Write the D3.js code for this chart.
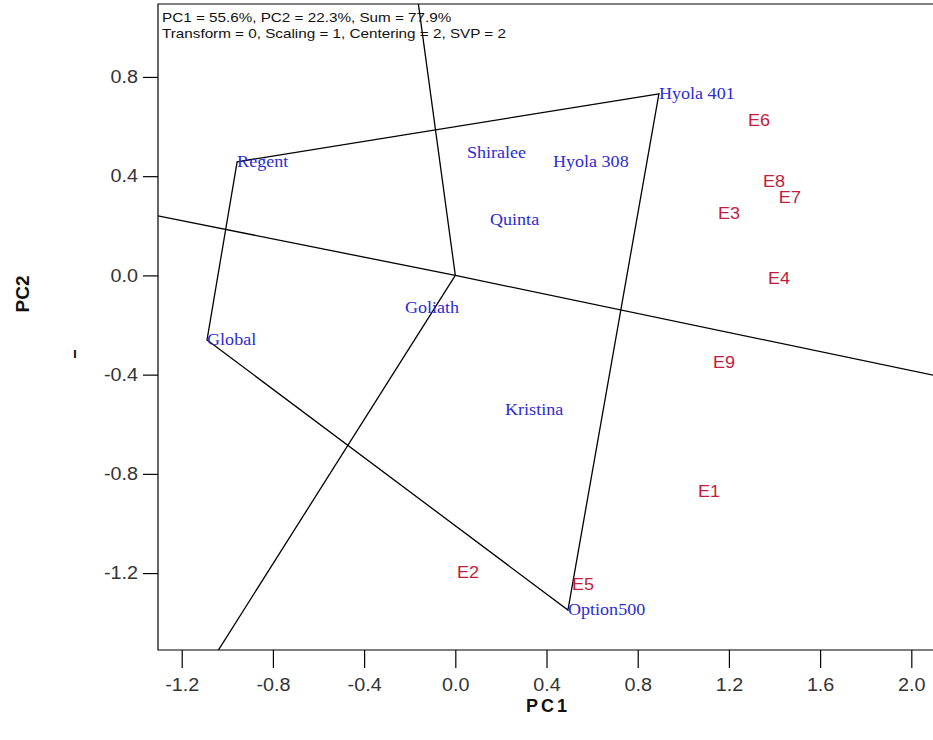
<!DOCTYPE html>
<html>
<head>
<meta charset="utf-8">
<script src="https://cdn.jsdelivr.net/npm/d3@7"></script>
<style>
  body { margin: 0; background: #fff; }
  svg { display: block; }
</style>
</head>
<body>
<svg id="biplot" width="933" height="740"></svg>
<script>
// genotype scores (PC1, PC2)
const genotypes = ["Hyola 401", "Regent", "Global", "Option500", "Shiralee", "Hyola 308", "Quinta", "Goliath", "Kristina"]
const genoPC1 = [0.893, -0.957, -1.089, 0.494, 0.051, 0.428, 0.152, -0.221, 0.218]
const genoPC2 = [0.732, 0.458, -0.260, -1.349, 0.493, 0.458, 0.224, -0.130, -0.542]

// environment scores
const envs = ["E1", "E2", "E3", "E4", "E5", "E6", "E7", "E8", "E9"]
const envPC1 = [1.064, 0.007, 1.152, 1.371, 0.512, 1.284, 1.419, 1.349, 1.130]
const envPC2 = [-0.873, -1.201, 0.248, -0.014, -1.248, 0.623, 0.313, 0.377, -0.353]

// polygon vertices (which-won-where)
const hull = ["Hyola 401", "Regent", "Global", "Option500"]

const xTicks = [-1.2, -0.8, -0.4, 0.0, 0.4, 0.8, 1.2, 1.6, 2.0]
const yTicks = [0.8, 0.4, 0.0, -0.4, -0.8, -1.2]

const header = ["PC1 = 55.6%, PC2 = 22.3%, Sum = 77.9%",
                "Transform = 0, Scaling = 1, Centering = 2, SVP = 2"]

const sx = 1.13  // picture is a bit stretched sideways

let svg = d3.select("#biplot")

let pLeft = 158, pTop = 4, pBottom = 650

let x = d3.scaleLinear().domain([-1.304, 2.2]).range([pLeft, pLeft + 3.504 * 228])
let y = d3.scaleLinear().domain([-1.51, 1.094]).range([pBottom, pTop])

let geno = genotypes.map((g, i) => ({name: g, pc1: genoPC1[i], pc2: genoPC2[i]}))
let env = envs.map((e, i) => ({name: e, pc1: envPC1[i], pc2: envPC2[i]}))

svg.append("clipPath")
  .attr("id", "plotclip")
  .append("rect")
  .attr("x", pLeft)
  .attr("y", pTop)
  .attr("width", 933 - pLeft)
  .attr("height", pBottom - pTop)

// frame
svg.append("path")
  .attr("d", "M" + 940 + "," + pTop + "H" + pLeft + "V" + pBottom + "H" + 940)
  .attr("fill", "none")
  .attr("stroke", "black")
  .attr("stroke-width", 1.2)

// axes
let xAxis = svg.append("g")
  .attr("transform", "translate(0," + pBottom + ")")
  .call(d3.axisBottom(x)
    .tickValues(xTicks)
    .tickSize(18)
    .tickPadding(11)
    .tickFormat(d => d.toFixed(1)))
xAxis.select(".domain").remove()
xAxis.selectAll("line").attr("stroke", "black").attr("stroke-width", 1.2)
xAxis.selectAll("text")
  .attr("font-family", "Arial, 'Liberation Sans', sans-serif")
  .attr("font-size", "17.5px")
  .attr("fill", "#333")
  .attr("transform", "scale(" + sx + ",1)")
  .attr("x", 0)

let yAxis = svg.append("g")
  .attr("transform", "translate(" + pLeft + ",0)")
  .call(d3.axisLeft(y)
    .tickValues(yTicks)
    .tickSize(15)
    .tickPadding(5)
    .tickFormat(d => d.toFixed(1)))
yAxis.select(".domain").remove()
yAxis.selectAll("line").attr("stroke", "black").attr("stroke-width", 1.2)
yAxis.selectAll("text")
  .attr("font-family", "Arial, 'Liberation Sans', sans-serif")
  .attr("font-size", "17.5px")
  .attr("fill", "#333")
  .attr("transform", "scale(" + sx + ",1)")
  .attr("x", -20 / sx)

// axis titles
svg.append("text")
  .attr("x", 548)
  .attr("y", 712)
  .attr("text-anchor", "middle")
  .attr("font-family", "Arial, 'Liberation Sans', sans-serif")
  .attr("font-weight", "bold")
  .attr("font-size", "18px")
  .attr("letter-spacing", "3px")
  .attr("fill", "#111")
  .text("PC1")

svg.append("text")
  .attr("transform", "translate(29,294) rotate(-90)")
  .attr("text-anchor", "middle")
  .attr("font-family", "Arial, 'Liberation Sans', sans-serif")
  .attr("font-weight", "bold")
  .attr("font-size", "19px")
  .attr("fill", "#111")
  .text("PC2")

// small stray tick left of the axis
svg.append("text")
  .attr("x", 75)
  .attr("y", 358)
  .attr("text-anchor", "middle")
  .attr("font-family", "Arial, 'Liberation Sans', sans-serif")
  .attr("font-weight", "bold")
  .attr("font-size", "14px")
  .attr("fill", "#111")
  .text("ı")

let plot = svg.append("g").attr("clip-path", "url(#plotclip)")

// polygon
let verts = hull.map(h => geno.find(g => g.name == h))
plot.append("path")
  .datum(verts)
  .attr("fill", "none")
  .attr("stroke", "black")
  .attr("stroke-width", 1.3)
  .attr("d", d3.line()
    .x(d => x(d.pc1))
    .y(d => y(d.pc2))
    .curve(d3.curveLinearClosed))

// rays from origin perpendicular to each side
let rays = []
for (let i = 0; i < verts.length; i++) {
  let a = verts[i], b = verts[(i + 1) % verts.length]
  let dx = b.pc1 - a.pc1, dy = b.pc2 - a.pc2
  let nx = dy, ny = -dx
  if (nx * a.pc1 + ny * a.pc2 < 0) { nx = -nx; ny = -ny }
  let len = Math.sqrt(nx * nx + ny * ny)
  rays.push({pc1: nx / len * 10, pc2: ny / len * 10})
}

plot.selectAll(".ray")
  .data(rays)
  .enter()
  .append("line")
  .attr("class", "ray")
  .attr("x1", x(0))
  .attr("y1", y(0))
  .attr("x2", d => x(d.pc1))
  .attr("y2", d => y(d.pc2))
  .attr("stroke", "black")
  .attr("stroke-width", 1.3)

// genotype labels
svg.selectAll(".geno")
  .data(geno)
  .enter()
  .append("text")
  .attr("class", "geno")
  .attr("transform", d => "translate(" + x(d.pc1) + "," + y(d.pc2) + ") scale(" + sx + ",1)")
  .attr("dominant-baseline", "central")
  .attr("font-family", "'Times New Roman', 'Liberation Serif', serif")
  .attr("font-size", "16px")
  .attr("fill", "#2b2bd6")
  .text(d => d.name)

// environment labels
svg.selectAll(".env")
  .data(env)
  .enter()
  .append("text")
  .attr("class", "env")
  .attr("transform", d => "translate(" + x(d.pc1) + "," + y(d.pc2) + ") scale(" + sx + ",1)")
  .attr("dominant-baseline", "central")
  .attr("font-family", "Arial, 'Liberation Sans', sans-serif")
  .attr("font-size", "16px")
  .attr("fill", "#c41c3c")
  .text(d => d.name)

// header
svg.selectAll(".head")
  .data(header)
  .enter()
  .append("text")
  .attr("class", "head")
  .attr("transform", (d, i) => "translate(162," + (17 + i * 16.5) + ") scale(" + sx + ",1)")
  .attr("dominant-baseline", "central")
  .attr("font-family", "Arial, 'Liberation Sans', sans-serif")
  .attr("font-size", "13.5px")
  .attr("fill", "#111")
  .text(d => d)
</script>
</body>
</html>
